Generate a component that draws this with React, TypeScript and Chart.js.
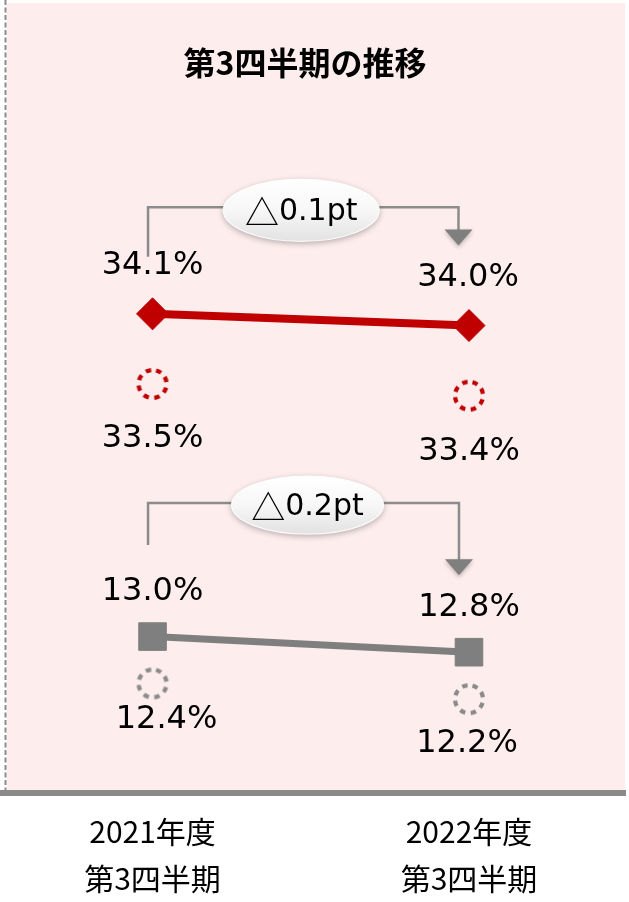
import { useEffect, useRef } from 'react';
import { Chart, registerables } from 'chart.js';

Chart.register(...registerables);

// ---- values ----
const chartTitle = '第3四半期の推移';
const periods = [
  ['2021年度', '第3四半期'],
  ['2022年度', '第3四半期'],
];
const upperRate = [34.1, 34.0];
const upperRateDotted = [33.5, 33.4];
const lowerRate = [13.0, 12.8];
const lowerRateDotted = [12.4, 12.2];
const changeLabels = ['△0.1pt', '△0.2pt'];

// ---- styles ----
const RED = '#C00000';
const GRAY = '#7F7F7F';
const RING_GRAY = '#8A8A8A';
const PINK = '#FDEDED';
const NUM_FONT = '"DejaVu Sans", Verdana, sans-serif';
const JP_FONT = '"Noto Sans CJK JP", "Noto Sans", sans-serif';

// dashed ring used as a point marker
function dottedRing(color: string): HTMLCanvasElement {
  const c = document.createElement('canvas');
  c.width = 40;
  c.height = 40;
  const g = c.getContext('2d')!;
  g.strokeStyle = color;
  g.lineWidth = 4.2;
  g.setLineDash([5.5, 5.5]);
  g.beginPath();
  g.arc(20, 20, 14, -Math.PI / 2 + 0.25, Math.PI * 1.5 + 0.25);
  g.stroke();
  return c;
}

const toPoints = (vals: number[]) => vals.map((y, x) => ({ x, y }));

// bracket callouts showing the change between the two periods
const bracketStyles = [
  { dataset: 0, rise: 106.5, drop: 57, tipGap: 80, leftInset: 4.5, rightInset: 10.5, dx: -2, dy: 3, rx: 78, ry: 31 },
  { dataset: 2, rise: 133.5, drop: 91.5, tipGap: 77, leftInset: 4.5, rightInset: 10, dx: 4, dy: 2, rx: 76, ry: 29 },
];

function drawMixedText(ctx: CanvasRenderingContext2D, text: string, cx: number, cy: number) {
  const runs: { t: string; font: string }[] = [];
  for (const ch of text) {
    const font = ch === '△' ? `34px ${JP_FONT}` : `30px ${NUM_FONT}`;
    const last = runs[runs.length - 1];
    if (last && last.font === font) last.t += ch;
    else runs.push({ t: ch, font });
  }
  let total = 0;
  const widths = runs.map((r) => {
    ctx.font = r.font;
    const w = ctx.measureText(r.t).width;
    total += w;
    return w;
  });
  let x = cx - total / 2;
  ctx.textAlign = 'left';
  ctx.textBaseline = 'middle';
  ctx.fillStyle = '#000';
  runs.forEach((r, i) => {
    ctx.font = r.font;
    ctx.fillText(r.t, x, cy);
    x += widths[i];
  });
}

const decorPlugin = {
  id: 'decor',
  beforeDraw(chart: any) {
    const { ctx, chartArea } = chart;
    ctx.save();
    ctx.fillStyle = '#FFFFFF';
    ctx.fillRect(0, 0, chart.width, chart.height);
    ctx.fillStyle = PINK;
    ctx.fillRect(7, chartArea.top, chartArea.right - 7, chartArea.bottom - chartArea.top);
    // dashed left edge
    ctx.strokeStyle = '#8C8C8C';
    ctx.lineWidth = 2;
    ctx.setLineDash([5, 2.5]);
    ctx.beginPath();
    ctx.moveTo(5.5, 0);
    ctx.lineTo(5.5, chartArea.bottom);
    ctx.stroke();
    ctx.setLineDash([]);
    // title
    ctx.fillStyle = '#000';
    ctx.font = `bold 32px ${JP_FONT}`;
    ctx.textAlign = 'center';
    ctx.textBaseline = 'middle';
    ctx.fillText(chartTitle, 305, chartArea.top + 60);
    ctx.restore();
  },
  afterDatasetsDraw(chart: any) {
    const { ctx } = chart;
    ctx.save();
    // brackets with arrow and change bubble
    bracketStyles.forEach((b, k) => {
      const pts = chart.getDatasetMeta(b.dataset).data;
      const p0 = pts[0];
      const p1 = pts[1];
      const lx = p0.x - b.leftInset;
      const rx = p1.x - b.rightInset;
      const barY = p0.y - b.rise;
      const tipY = p1.y - b.tipGap;
      ctx.strokeStyle = '#8C8C8C';
      ctx.lineWidth = 2.5;
      ctx.beginPath();
      ctx.moveTo(lx, p0.y - b.drop);
      ctx.lineTo(lx, barY);
      ctx.lineTo(rx, barY);
      ctx.lineTo(rx, tipY - 15);
      ctx.stroke();
      ctx.save();
      ctx.shadowColor = 'rgba(0,0,0,0.25)';
      ctx.shadowBlur = 4;
      ctx.shadowOffsetY = 2;
      ctx.fillStyle = '#7F7F7F';
      ctx.beginPath();
      ctx.moveTo(rx - 14, tipY - 16);
      ctx.lineTo(rx + 14, tipY - 16);
      ctx.lineTo(rx, tipY);
      ctx.closePath();
      ctx.fill();
      ctx.restore();

      const cx = (lx + rx) / 2 + b.dx;
      const cy = barY + b.dy;
      ctx.save();
      const grad = ctx.createLinearGradient(0, cy - b.ry, 0, cy + b.ry);
      grad.addColorStop(0, '#FFFFFF');
      grad.addColorStop(0.5, '#F7F7F7');
      grad.addColorStop(1, '#E2E2E2');
      ctx.shadowColor = 'rgba(0,0,0,0.3)';
      ctx.shadowBlur = 6;
      ctx.shadowOffsetY = 2;
      ctx.fillStyle = grad;
      ctx.beginPath();
      ctx.ellipse(cx, cy, b.rx, b.ry, 0, 0, Math.PI * 2);
      ctx.fill();
      ctx.restore();
      ctx.strokeStyle = 'rgba(255,255,255,0.9)';
      ctx.lineWidth = 1.2;
      ctx.beginPath();
      ctx.ellipse(cx, cy, b.rx, b.ry, 0, 0, Math.PI * 2);
      ctx.stroke();
      drawMixedText(ctx, changeLabels[k], cx, cy + 2);
    });

    // value labels
    ctx.fillStyle = '#000';
    ctx.font = `32px ${NUM_FONT}`;
    ctx.textAlign = 'center';
    ctx.textBaseline = 'middle';
    chart.data.datasets.forEach((ds: any, i: number) => {
      const meta = chart.getDatasetMeta(i);
      meta.data.forEach((pt: any, j: number) => {
        const v = ds.data[j].y as number;
        ctx.fillText(`${v.toFixed(1)}%`, pt.x + (ds.labelDx?.[j] ?? 0), pt.y + (ds.labelDy?.[j] ?? 0));
      });
    });
    ctx.restore();
  },
};

export default function App() {
  const canvasRef = useRef<HTMLCanvasElement | null>(null);

  useEffect(() => {
    const canvas = canvasRef.current;
    if (!canvas) return;
    const chart = new Chart(canvas, {
      type: 'line',
      data: {
        datasets: [
          {
            data: toPoints(upperRate),
            yAxisID: 'yTop',
            borderColor: RED,
            borderWidth: 8,
            pointStyle: 'rectRot',
            pointRadius: 16,
            pointBackgroundColor: RED,
            pointBorderColor: RED,
            pointBorderWidth: 1,
            labelDx: [0, -1],
            labelDy: [-48.5, -48],
          },
          {
            data: toPoints(upperRateDotted),
            yAxisID: 'yTop',
            showLine: false,
            pointStyle: dottedRing(RED),
            pointRadius: 16,
            labelDx: [0, 0],
            labelDy: [55, 56],
          },
          {
            data: toPoints(lowerRate),
            yAxisID: 'yBottom',
            borderColor: GRAY,
            borderWidth: 7,
            pointStyle: 'rect',
            pointRadius: 19.5,
            pointBackgroundColor: GRAY,
            pointBorderColor: GRAY,
            pointBorderWidth: 1,
            labelDx: [0, 0],
            labelDy: [-45, -45],
          },
          {
            data: toPoints(lowerRateDotted),
            yAxisID: 'yBottom',
            showLine: false,
            pointStyle: dottedRing(RING_GRAY),
            pointRadius: 16,
            labelDx: [14, -2],
            labelDy: [36, 45],
          },
        ] as any,
      },
      options: {
        animation: false,
        responsive: true,
        maintainAspectRatio: false,
        events: [],
        layout: { autoPadding: false, padding: { left: 0, right: 4, top: 3, bottom: 0 } },
        plugins: {
          legend: { display: false },
          tooltip: { enabled: false },
          title: { display: false },
        },
        scales: {
          x: {
            type: 'linear',
            min: -0.482,
            max: 1.493,
            grid: { display: false, drawTicks: false },
            border: { display: true, color: '#8A8A8A', width: 6 },
            afterBuildTicks: (s: any) => {
              s.ticks = periods.map((_, i) => ({ value: i }));
            },
            afterFit: (s: any) => {
              s.height = 109;
            },
            ticks: {
              autoSkip: false,
              maxRotation: 0,
              padding: 15,
              color: '#000',
              font: { family: JP_FONT, size: 30, lineHeight: 1.57 },
              callback: (v: any) => periods[v as number] ?? '',
            },
          },
          yTop: { type: 'linear', display: false, min: 30, max: 36.76 },
          yBottom: { type: 'linear', display: false, min: 11, max: 21.1 },
        },
      } as any,
      plugins: [decorPlugin],
    });
    return () => chart.destroy();
  }, []);

  return (
    <div style={{ position: 'fixed', left: 0, top: 0, width: 629, height: 902, background: '#fff' }}>
      <canvas ref={canvasRef} style={{ display: 'block' }} />
    </div>
  );
}
